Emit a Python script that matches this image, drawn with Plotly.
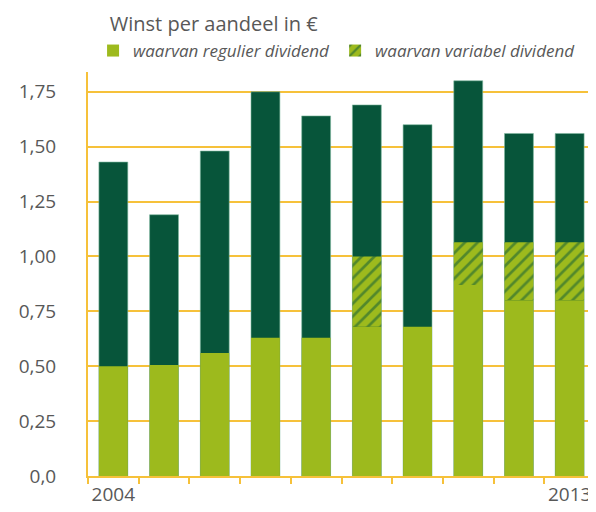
import plotly.graph_objects as go

years = ["2004", "2005", "2006", "2007", "2008", "2009", "2010", "2011", "2012", "2013"]
year_labels = ["2004", "", "", "", "", "", "", "", "", "2013"]
eps_total = [1.43, 1.19, 1.48, 1.75, 1.64, 1.69, 1.60, 1.80, 1.56, 1.56]
regular_div = [0.50, 0.505, 0.56, 0.63, 0.63, 0.68, 0.68, 0.87, 0.80, 0.80]
variable_div = [0, 0, 0, 0, 0, 0.32, 0, 0.195, 0.265, 0.265]
y_ticks = [0, 0.25, 0.5, 0.75, 1.0, 1.25, 1.5, 1.75]
y_tick_labels = ["0,0", "0,25", "0,50", "0,75", "1,00", "1,25", "1,50", "1,75"]

DARK = "#07553a"
LIGHT = "#9dba1d"
GRID = "#f6c13a"
TXT = "#585858"
FONT = "Open Sans"

fig = go.Figure()
fig.add_trace(go.Bar(
    x=years, y=eps_total, marker=dict(color=DARK, line=dict(color="#7fb8a0", width=0.6)),
    showlegend=False, name="Winst per aandeel",
))
fig.add_trace(go.Bar(
    x=years, y=variable_div, base=regular_div, name="waarvan variabel dividend",
    marker=dict(color=LIGHT, line=dict(width=0),
                pattern=dict(shape="/", fgcolor=DARK, bgcolor=LIGHT, size=9, solidity=0.3)),
    legendrank=2,
))
fig.add_trace(go.Bar(
    x=years, y=regular_div, name="waarvan regulier dividend",
    marker=dict(color=LIGHT, line=dict(width=0)), legendrank=1,
))

# the page body adds an 8px offset, so the figure is 8px smaller than the window
fig.update_layout(
    width=588, height=504,
    margin=dict(l=80, r=1, t=64, b=36, autoexpand=False),
    barmode="overlay", bargap=0.43,
    plot_bgcolor="white", paper_bgcolor="white",
    font=dict(family=FONT, color=TXT),
    title=dict(text="Winst per aandeel in €", xref="paper", x=0.043, xanchor="left",
               yref="container", y=0.968, yanchor="middle",
               font=dict(size=20, color=TXT, family=FONT)),
    legend=dict(
        orientation="h", x=0.01, xanchor="left", y=1.052, yanchor="middle",
        font=dict(size=17, color=TXT, family=FONT, style="italic"),
        itemwidth=30, tracegroupgap=0, bgcolor="rgba(0,0,0,0)",
    ),
    xaxis=dict(
        type="category", tickvals=years, ticktext=year_labels, tickson="boundaries",
        ticks="outside", ticklen=6, tickcolor=GRID, tickwidth=1.5, tickangle=0,
        showline=True, linecolor=GRID, linewidth=2, showgrid=False, automargin=False,
        tickfont=dict(size=19, color=TXT), fixedrange=True,
    ),
    yaxis=dict(
        range=[0, 1.84], tickvals=y_ticks, ticktext=y_tick_labels,
        showgrid=True, gridcolor=GRID, gridwidth=2, automargin=False,
        showline=True, linecolor=GRID, linewidth=2, zeroline=False,
        ticks="", ticklabelstandoff=26,
        tickfont=dict(size=19, color=TXT),
    ),
)

fig.write_html("out.html")
